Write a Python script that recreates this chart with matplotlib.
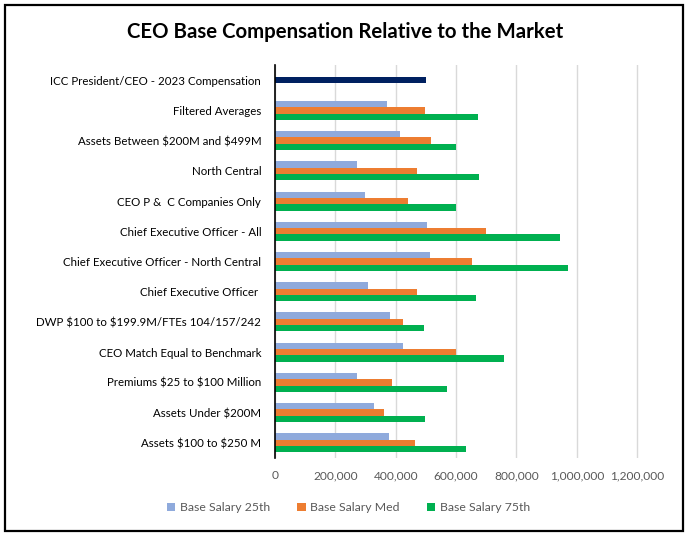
import numpy as np
import matplotlib
matplotlib.use("Agg")
import matplotlib.pyplot as plt
from matplotlib.patches import Rectangle

plt.rcParams['font.family'] = ['Lato', 'DejaVu Sans']

# categories, top to bottom
categories = [
    "ICC President/CEO - 2023 Compensation",
    "Filtered Averages",
    "Assets Between \\$200M and \\$499M",
    "North Central",
    "CEO P &  C Companies Only",
    "Chief Executive Officer - All",
    "Chief Executive Officer - North Central",
    "Chief Executive Officer ",
    "DWP \\$100 to \\$199.9M/FTEs 104/157/242",
    "CEO Match Equal to Benchmark",
    "Premiums \\$25 to \\$100 Million",
    "Assets Under \\$200M",
    "Assets \\$100 to \\$250 M",
]
# first row (ICC) only has its own compensation value
icc_comp = 500000
base_25th = [372000, 415000, 273000, 299000, 505000, 515000, 309000, 382000, 425000, 270000, 329000, 376000]
base_med = [498000, 518000, 472000, 439000, 700000, 654000, 469000, 425000, 600000, 389000, 362000, 465000]
base_75th = [674000, 600000, 677000, 600000, 943000, 972000, 667000, 492000, 757000, 571000, 498000, 634000]
xticks = [0, 200000, 400000, 600000, 800000, 1000000, 1200000]


def main():
    fig = plt.figure(figsize=(6.9, 5.38), dpi=100)
    ax = fig.add_axes([0.3986, 0.1487, 0.5914, 0.7305])

    n = len(categories)
    y = np.arange(n)
    h = 0.21
    ym = y[1:]

    ax.barh(y[0], icc_comp, height=h, color="#002060", zorder=3)
    ax.barh(ym - h, base_25th, height=h, color="#8faadc", label="Base Salary 25th", zorder=3)
    ax.barh(ym, base_med, height=h, color="#ed7d31", label="Base Salary Med", zorder=3)
    ax.barh(ym + h, base_75th, height=h, color="#00b050", label="Base Salary 75th", zorder=3)

    ax.set_ylim(n - 0.5, -0.5)
    ax.set_yticks(y)
    ax.set_yticklabels(categories, fontsize=8.3, color="#000000")
    ax.set_xlim(0, 1352000)
    ax.set_xticks(xticks)
    ax.set_xticklabels([f"{v:,}" for v in xticks], fontsize=8.6, color="#595959")
    ax.tick_params(axis="y", length=0, pad=10)
    ax.tick_params(axis="x", length=0, pad=9)

    ax.grid(axis="x", color="#d9d9d9", linewidth=1, zorder=0)
    for s in ["top", "right", "bottom"]:
        ax.spines[s].set_visible(False)
    ax.spines["left"].set_color("black")
    ax.spines["left"].set_linewidth(1.2)
    ax.spines["left"].set_zorder(4)

    fig.text(0.5, 0.94, "CEO Base Compensation Relative to the Market",
             ha="center", va="center", fontsize=14.7, fontweight="bold")

    fig.legend(loc="center", bbox_to_anchor=(0.505, 0.056), ncol=3, frameon=False,
               fontsize=8.8, handlelength=0.7, handleheight=0.7, handletextpad=0.4,
               columnspacing=2.2, labelcolor="#595959")

    fig.patches.append(Rectangle((5 / 690, 1 - 531 / 538), 678 / 690, 526 / 538,
                                 transform=fig.transFigure, fill=False,
                                 edgecolor="black", linewidth=1.6, zorder=10))

    fig.savefig("out.png", dpi=100)


if __name__ == "__main__":
    main()
